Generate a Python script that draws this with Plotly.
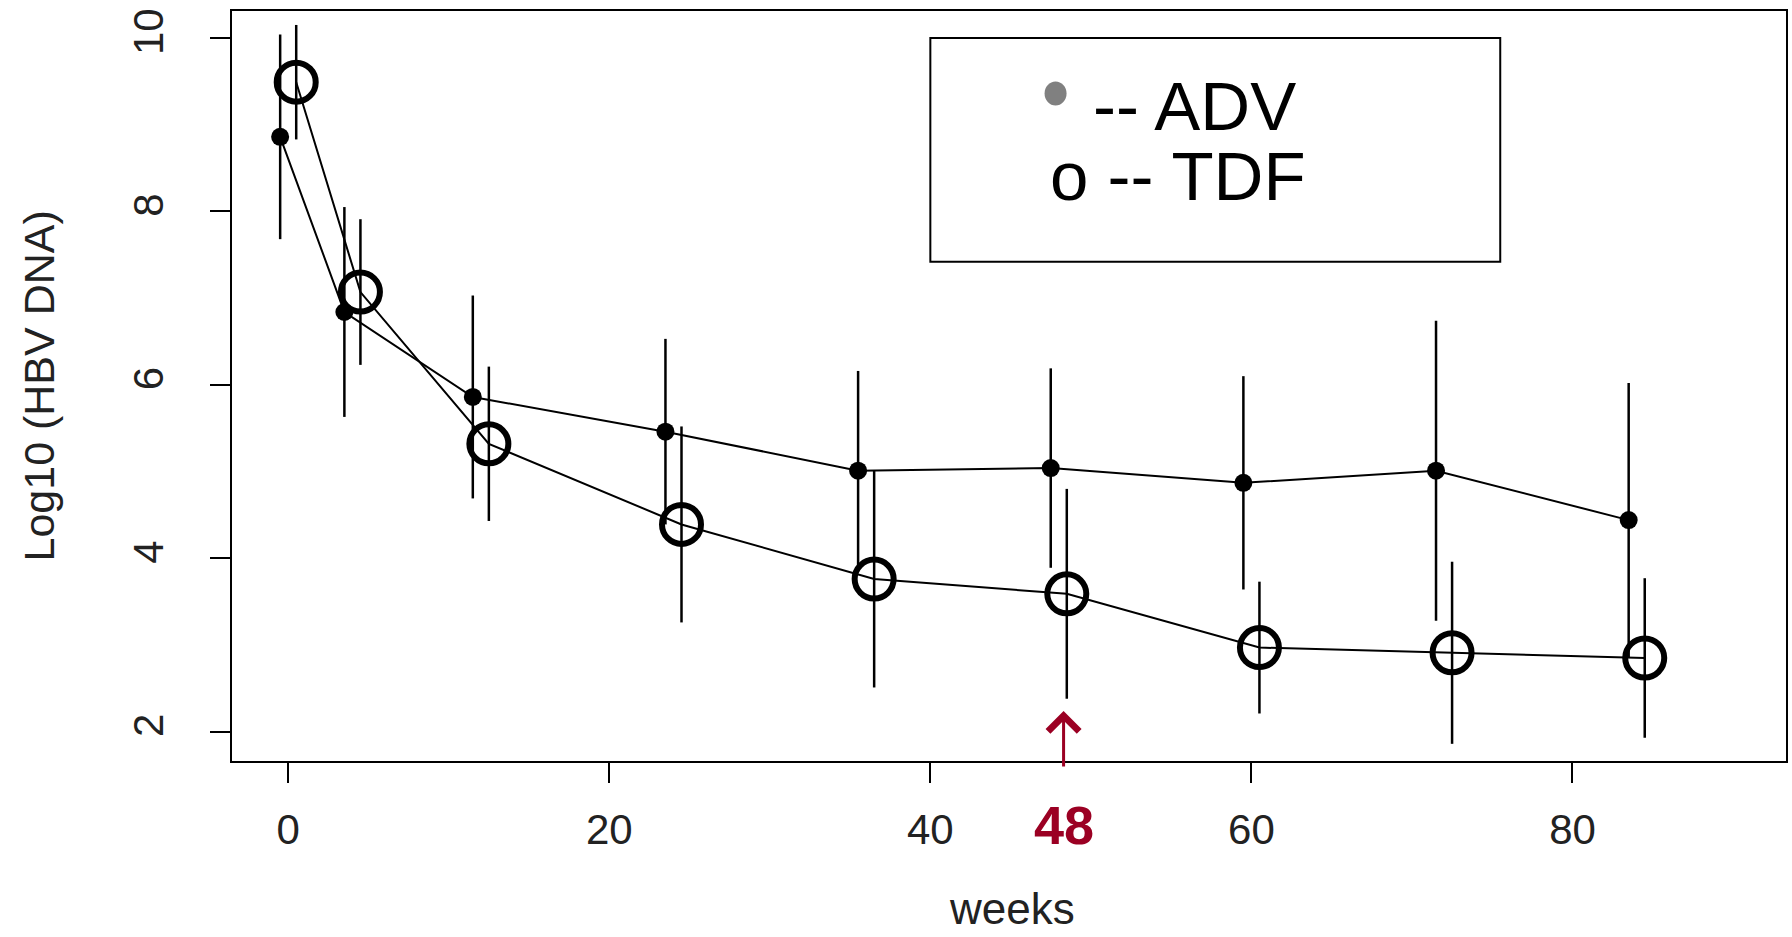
import plotly.graph_objects as go

# ---- data ----
weeks = [0, 4, 12, 24, 36, 48, 60, 72, 84]
adv_mean = [8.86, 6.84, 5.86, 5.46, 5.01, 5.04, 4.87, 5.01, 4.44]
adv_err = [1.18, 1.21, 1.17, 1.07, 1.15, 1.15, 1.23, 1.73, 1.58]
tdf_mean = [9.49, 7.07, 5.32, 4.39, 3.76, 3.59, 2.97, 2.91, 2.85]
tdf_err = [0.66, 0.84, 0.89, 1.13, 1.25, 1.21, 0.76, 1.05, 0.92]
x_ticks = [0, 20, 40, 60, 80]
y_ticks = [2, 4, 6, 8, 10]
highlight_week = 48

# small horizontal dodge so the two groups do not overlap
ADV_SHIFT = -0.5
TDF_SHIFT = 0.5

FONT = "Liberation Sans, Arial, Helvetica, sans-serif"
TXT = "#222222"
RED = "#9b0023"

fig = go.Figure()

fig.add_trace(go.Scatter(
    x=[w + ADV_SHIFT for w in weeks], y=adv_mean,
    mode="lines+markers", name="ADV",
    line=dict(color="black", width=2),
    marker=dict(symbol="circle", size=18, color="black"),
    error_y=dict(type="data", array=adv_err, visible=True,
                 color="black", thickness=2.5, width=0),
    showlegend=False,
))

fig.add_trace(go.Scatter(
    x=[w + TDF_SHIFT for w in weeks], y=tdf_mean,
    mode="lines+markers", name="TDF",
    line=dict(color="black", width=2),
    marker=dict(symbol="circle-open", size=39, color="black",
                line=dict(color="black", width=6)),
    error_y=dict(type="data", array=tdf_err, visible=True,
                 color="black", thickness=2.5, width=0),
    showlegend=False,
))

# ---- legend box (drawn like R's legend) ----
fig.add_shape(type="rect", xref="x", yref="y", x0=40, x1=75.5, y0=7.42, y1=10.0,
              line=dict(color="black", width=2), fillcolor="rgba(0,0,0,0)")
fig.add_shape(type="circle", xref="x", yref="y",
              xsizemode="pixel", ysizemode="pixel",
              xanchor=47.8, yanchor=9.36, x0=-11, x1=11, y0=-12, y1=12,
              line=dict(width=0), fillcolor="#808080")
fig.add_annotation(x=50.0, y=9.21, xref="x", yref="y", text="-- ADV",
                   showarrow=False, xanchor="left", yanchor="middle",
                   font=dict(family=FONT, size=69, color="black"))
fig.add_annotation(x=47.3, y=8.40, xref="x", yref="y", text="o -- TDF",
                   showarrow=False, xanchor="left", yanchor="middle",
                   font=dict(family=FONT, size=69, color="black"))

# ---- week 48 highlight ----
fig.add_annotation(x=highlight_week + 0.3, y=2.24, ax=highlight_week + 0.3, ay=1.58,
                   xref="x", yref="y", axref="x", ayref="y",
                   showarrow=True, arrowhead=4, arrowsize=2.0, arrowwidth=3,
                   arrowcolor=RED, text="")
fig.add_annotation(x=highlight_week + 0.3, y=-0.0853, xref="x", yref="paper",
                   text="<b>%d</b>" % highlight_week, showarrow=False,
                   xanchor="center", yanchor="middle",
                   font=dict(family="Liberation Sans Narrow, Arial Narrow, " + FONT,
                             size=54, color=RED))

# ---- axis titles ----
fig.add_annotation(x=0.502, y=-0.232, xref="paper", yref="paper", text="weeks",
                   showarrow=False, xanchor="center", yanchor="bottom",
                   font=dict(family=FONT, size=44, color=TXT))
fig.add_annotation(x=-0.1245, y=0.5, xref="paper", yref="paper", text="Log10 (HBV DNA)",
                   showarrow=False, xanchor="center", yanchor="middle", textangle=-90,
                   font=dict(family=FONT, size=43, color=TXT))

fig.update_xaxes(
    range=[-3.5, 93.3], tickvals=x_ticks, ticktext=[str(v) for v in x_ticks],
    showline=True, linecolor="black", linewidth=2, mirror=True,
    ticks="outside", ticklen=20, tickwidth=2, tickcolor="black",
    ticklabelstandoff=11, automargin=False,
    showgrid=False, zeroline=False,
    tickfont=dict(family=FONT, size=42, color=TXT),
)
fig.update_yaxes(
    range=[1.662, 10.311], tickvals=y_ticks, ticktext=[str(v) for v in y_ticks],
    showline=True, linecolor="black", linewidth=2, mirror=True,
    ticks="outside", ticklen=20, tickwidth=2, tickcolor="black",
    tickangle=-90, ticklabelstandoff=30, automargin=False,
    showgrid=False, zeroline=False,
    tickfont=dict(family=FONT, size=42, color=TXT),
)

fig.update_layout(
    width=1792, height=937, autosize=False,
    margin=dict(l=232, r=6, t=11, b=176, pad=0),
    plot_bgcolor="white", paper_bgcolor="white",
    font=dict(family=FONT, color=TXT),
)

fig.write_html("out.html", include_plotlyjs=True,
               config={"displayModeBar": False},
               post_script="document.body.style.margin='0';document.body.style.overflow='hidden';")
